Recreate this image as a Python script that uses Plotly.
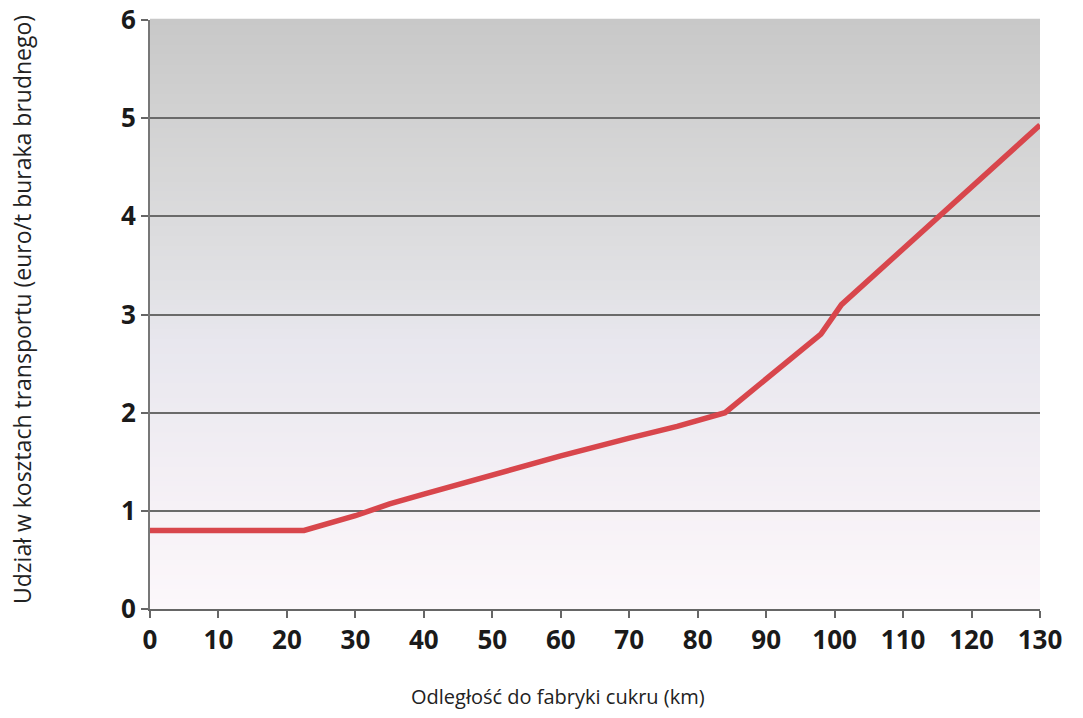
import plotly.graph_objects as go

distance_km = [0, 22.5, 30, 35, 40, 50, 60, 70, 77, 84, 98, 101, 130]
cost_share = [0.8, 0.8, 0.95, 1.07, 1.17, 1.37, 1.56, 1.74, 1.86, 2.0, 2.8, 3.1, 4.93]
x_ticks = list(range(0, 131, 10))
y_ticks = list(range(0, 7))
x_title = "Odległość do fabryki cukru (km)"
y_title = "Udział w kosztach transportu (euro/t buraka brudnego)"

# background gradient stops (fraction of height from bottom, rgb)
grad_stops = [(0.0, (252, 248, 251)), (0.17, (246, 241, 246)), (0.45, (232, 231, 238)),
              (0.55, (225, 225, 228)), (0.83, (210, 210, 210)), (1.0, (200, 200, 200))]


def grad_color(f):
    for (f0, c0), (f1, c1) in zip(grad_stops[:-1], grad_stops[1:]):
        if f0 <= f <= f1:
            t = (f - f0) / (f1 - f0) if f1 > f0 else 0
            return "rgb(%d,%d,%d)" % tuple(round(a + (b - a) * t) for a, b in zip(c0, c1))
    return "rgb(%d,%d,%d)" % grad_stops[-1][1]


n_strips = 120
shapes = []
for i in range(n_strips):
    f0 = i / n_strips
    f1 = (i + 1) / n_strips
    shapes.append(dict(type="rect", xref="paper", yref="paper", x0=0, x1=1, y0=f0, y1=f1 + 0.002,
                       fillcolor=grad_color((f0 + f1) / 2), line=dict(width=0), layer="below"))

fig = go.Figure()
fig.add_trace(go.Scatter(
    x=distance_km, y=cost_share, mode="lines",
    line=dict(color="#d8464c", width=5.5), showlegend=False, hoverinfo="skip",
))

fig.update_layout(
    width=1083, height=718,
    margin=dict(l=150, r=43, t=20, b=109),
    paper_bgcolor="white", plot_bgcolor="white",
    font=dict(family="Open Sans", color="#1a1a1a"),
    shapes=shapes,
    annotations=[
        dict(text=x_title, xref="paper", yref="paper", x=0.4584, y=-0.1494,
             xanchor="center", yanchor="middle", showarrow=False,
             font=dict(size=20, family="Open Sans", color="#222")),
        dict(text=y_title, xref="paper", yref="paper", x=-0.1438, y=0.5076,
             xanchor="center", yanchor="middle", showarrow=False, textangle=-90,
             font=dict(size=23, family="Open Sans", color="#222")),
    ],
)
fig.update_xaxes(
    range=[0, 130], tickvals=x_ticks, ticks="outside", ticklen=7, tickcolor="#666", tickwidth=1.5,
    showline=True, linecolor="#666", linewidth=2, showgrid=False, zeroline=False, automargin=False,
    ticklabeloverflow="allow",
    tickfont=dict(size=26, family="Open Sans", weight="bold", color="#1a1a1a"),
)
fig.update_yaxes(
    range=[0, 6], tickvals=y_ticks, ticks="outside", ticklen=7, tickcolor="#666", tickwidth=1.5,
    showline=True, linecolor="#777", linewidth=2, showgrid=True, gridcolor="#6a6a6a", gridwidth=2,
    zeroline=False, automargin=False, ticklabeloverflow="allow",
    tickfont=dict(size=26, family="Open Sans", weight="bold", color="#1a1a1a"),
)

fig.write_html("out.html", config={"displayModeBar": False},
               post_script="document.body.style.margin='0';")
